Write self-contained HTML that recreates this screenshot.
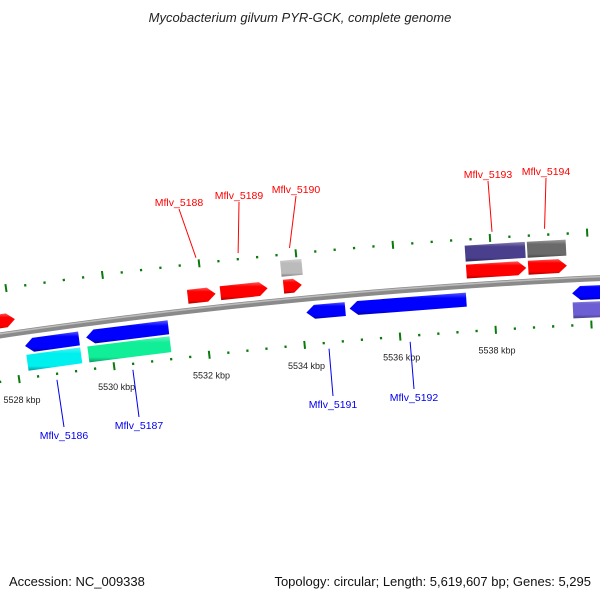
<!DOCTYPE html>
<html><head><meta charset="utf-8"><style>
html,body{margin:0;padding:0;background:#fff;}
svg{display:block;font-family:"Liberation Sans","DejaVu Sans",sans-serif;}
</style></head><body>
<svg id="map" width="600" height="600" viewBox="0 0 600 600">
<defs>
<linearGradient id="axisg" x1="0" y1="0" x2="0" y2="1"><stop offset="0" stop-color="#c8c8c8"/><stop offset="0.45" stop-color="#999"/><stop offset="1" stop-color="#555"/></linearGradient>
</defs>
<text x="300" y="22" text-anchor="middle" font-size="13" font-style="italic" fill="#222">Mycobacterium gilvum PYR-GCK, complete genome</text>
<g id="ticks"></g>
<path id="backbone" fill="none" stroke="#8a8a8a" stroke-width="6"/>
<path id="backbone-hi" fill="none" stroke="#bdbdbd" stroke-width="1.5"/>
<g id="genes"></g>
<g id="labels"></g>
<text x="9" y="586" font-size="13" fill="#111">Accession: NC_009338</text>
<text x="591" y="586" font-size="13" fill="#111" text-anchor="end">Topology: circular; Length: 5,619,607 bp; Genes: 5,295</text>
</svg>
<script>
const geneStart=[5527.6,5531.69,5532.37,5533.66,5533.68,5537.47,5538.75,5537.47,5538.75,5534.10,5535.0,5539.63,5539.63,5528.22,5529.50,5528.22,5529.50];
const geneEnd=[5528.09,5532.27,5533.35,5534.10,5534.06,5538.71,5539.55,5538.71,5539.55,5534.91,5537.43,5541.2,5541.2,5529.35,5531.22,5529.35,5531.22];
const geneStrand=[1,1,1,0,1,0,0,1,1,-1,-1,-1,0,-1,-1,0,0];
const geneRow=[1,1,1,2,1,2,2,1,1,-1,-1,-1,-2,-1,-1,-2,-2];
const geneColor=["#ff0000","#ff0000","#ff0000","#bbbbbb","#ff0000","#4a3f8c","#6a6a6a","#ff0000","#ff0000","#0000ff","#0000ff","#0000ff","#6d5fd3","#0000ff","#0000ff","#00f0f0","#10ee98"];
const labelNames=["Mflv_5188","Mflv_5189","Mflv_5190","Mflv_5193","Mflv_5194","Mflv_5186","Mflv_5187","Mflv_5191","Mflv_5192"];
const labelKbp=[5531.95,5532.82,5533.88,5538.05,5539.13,5528.78,5530.38,5534.5,5536.2];
const labelStrand=[1,1,1,1,1,-1,-1,-1,-1];
const labelTextX=[179,239,296,488,546,64,139,333,414];
const labelTextY=[206,199,193,178,175,439,429,408,401];
const tickLabels=[5528,5530,5532,5534,5536,5538];
const NS="http://www.w3.org/2000/svg";
const CX=870,CY=6272,R0=6000;
function ang(k){return -0.0951+(k-5534)*0.00805;}
function pt(k,r){const a=ang(k);return [CX+r*Math.sin(a),CY-r*Math.cos(a)];}
function P(p){return p[0].toFixed(2)+","+p[1].toFixed(2);}
function arcPath(k1,k2,r){let d="";for(let i=0;i<=40;i++){const k=k1+(k2-k1)*i/40;d+=(i?"L":"M")+P(pt(k,r));}return d;}
// backbone
document.getElementById("backbone").setAttribute("d",arcPath(5527.3,5541.3,R0));
document.getElementById("backbone-hi").setAttribute("d",arcPath(5527.3,5541.3,R0+1.5));
// ticks
const tg=document.getElementById("ticks");
for(const rr of [6046,5954]){
  for(let i=0;;i++){const k=5527.6+i*0.4; if(k>5540.6)break;
    const major=Math.abs(k/2-Math.round(k/2))<0.01;
    const half=major?4:1.2;
    const a=pt(k,rr-half),b=pt(k,rr+half);
    const l=document.createElementNS(NS,"line");
    l.setAttribute("x1",a[0]);l.setAttribute("y1",a[1]);l.setAttribute("x2",b[0]);l.setAttribute("y2",b[1]);
    l.setAttribute("stroke","#0a7a0a");l.setAttribute("stroke-width",major?2:2.2);
    
    
    tg.appendChild(l);
  }
}
tickLabels.forEach(k=>{
  const p=pt(k,5954-20);
  const t=document.createElementNS(NS,"text");
  t.setAttribute("x",p[0]);t.setAttribute("y",p[1]+4);
  t.setAttribute("text-anchor","middle");t.setAttribute("font-size","9");t.setAttribute("fill","#222");
  t.textContent=k+" kbp";
  
  
  tg.appendChild(t);
});
// genes
function shade(hex,f){const n=parseInt(hex.slice(1),16);let r=n>>16,g=(n>>8)&255,b=n&255;
  if(f>0){r+= (255-r)*f;g+=(255-g)*f;b+=(255-b)*f;}else{r*=1+f;g*=1+f;b*=1+f;}
  return "rgb("+Math.round(r)+","+Math.round(g)+","+Math.round(b)+")";}
const rowR={1:[6007,6021],2:[6024,6040],"-1":[5979,5993],"-2":[5961,5977]};
const gg=document.getElementById("genes");
const defs=document.querySelector("defs");
for(let i=0;i<geneStart.length;i++){
  const [r1,r2]=rowR[geneRow[i]];const k1=geneStart[i],k2=geneEnd[i],s=geneStrand[i];
  const head=0.17,rm=(r1+r2)/2;let pts;
  if(s===1){pts=[pt(k1,r1),pt(k2-head,r1),pt(k2,rm),pt(k2-head,r2),pt(k1,r2)];}
  else if(s===-1){pts=[pt(k1+head,r1),pt(k2,r1),pt(k2,r2),pt(k1+head,r2),pt(k1,rm)];}
  else{pts=[pt(k1,r1),pt(k2,r1),pt(k2,r2),pt(k1,r2)];}
  const gid="gg"+i;
  const lg=document.createElementNS(NS,"linearGradient");
  lg.setAttribute("id",gid);lg.setAttribute("x1","0");lg.setAttribute("y1","0");lg.setAttribute("x2","0");lg.setAttribute("y2","1");
  [[0,shade(geneColor[i],0.35)],[0.25,geneColor[i]],[0.8,geneColor[i]],[1,shade(geneColor[i],-0.35)]].forEach(([o,c])=>{
    const st=document.createElementNS(NS,"stop");st.setAttribute("offset",o);st.setAttribute("stop-color",c);lg.appendChild(st);});
  defs.appendChild(lg);
  const p=document.createElementNS(NS,"polygon");
  p.setAttribute("points",pts.map(P).join(" "));
  p.setAttribute("fill","url(#"+gid+")");
  
  
  gg.appendChild(p);
}
// labels
const lb=document.getElementById("labels");
for(let i=0;i<labelNames.length;i++){
  const fwd=labelStrand[i]===1;const col=fwd?"#ff0000":"#0000ee";
  const a=pt(labelKbp[i],fwd?6052:5948);
  const tx=labelTextX[i],ty=labelTextY[i];
  const l=document.createElementNS(NS,"line");
  l.setAttribute("x1",a[0]);l.setAttribute("y1",a[1]);l.setAttribute("x2",tx);l.setAttribute("y2",fwd?ty+3:ty-12);
  l.setAttribute("stroke",col);l.setAttribute("stroke-width","1");
  
  
  lb.appendChild(l);
  const t=document.createElementNS(NS,"text");
  t.setAttribute("x",tx);t.setAttribute("y",ty);t.setAttribute("text-anchor","middle");
  t.setAttribute("font-size","10.5");t.setAttribute("fill",col);
  t.textContent=labelNames[i];
  
  
  lb.appendChild(t);
}
</script>
</body></html>
